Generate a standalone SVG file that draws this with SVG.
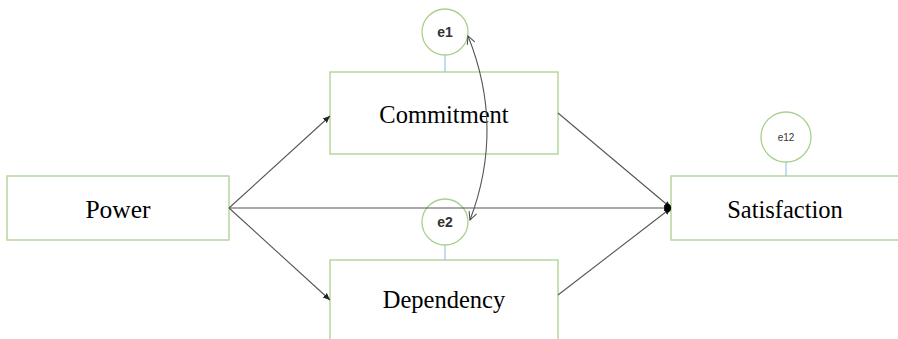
<svg xmlns="http://www.w3.org/2000/svg" width="898" height="339" viewBox="0 0 898 339">
<style>
.box{fill:#fff;stroke:#a9d18e;stroke-width:1.3}
.circ{fill:#fff;stroke:#a9d18e;stroke-width:1.3}
.lbl{font-family:"Liberation Serif","Times New Roman",serif;font-size:24.5px;fill:#000;text-anchor:middle}
.el{font-family:"Liberation Sans",sans-serif;font-size:14px;fill:#333;text-anchor:middle;font-weight:bold}
.tie{stroke:#9dc3e6;stroke-width:1.2}
.c{stroke:#555;stroke-width:1.1;fill:none}
</style>
<defs>
<marker id="ah" markerWidth="8" markerHeight="8" refX="7" refY="4" orient="auto" markerUnits="userSpaceOnUse">
<path d="M0,1 L7,4 L0,7 Z" fill="#222"/>
</marker>
<marker id="oh" markerWidth="10" markerHeight="10" refX="9" refY="5" orient="auto" markerUnits="userSpaceOnUse">
<path d="M1,1 L9,5 L1,9" fill="none" stroke="#444" stroke-width="1"/>
</marker>
<marker id="oh2" markerWidth="10" markerHeight="10" refX="1" refY="5" orient="auto" markerUnits="userSpaceOnUse">
<path d="M9,1 L1,5 L9,9" fill="none" stroke="#444" stroke-width="1"/>
</marker>
</defs>
<g id="power"><rect class="box" x="7" y="176" width="222" height="64"/><text class="lbl" x="118" y="218" style="font-size:25.5px">Power</text></g>
<g id="commitment"><rect class="box" x="330" y="72" width="228" height="82"/><text class="lbl" x="444" y="123">Commitment</text></g>
<g id="dependency"><rect class="box" x="330" y="260" width="228" height="80"/><text class="lbl" x="444" y="308">Dependency</text></g>
<g id="satisfaction"><rect class="box" x="671" y="176" width="230" height="64"/><text class="lbl" x="785" y="218">Satisfaction</text></g>
<g id="e1"><line class="tie" x1="445" y1="55" x2="445" y2="72"/><circle class="circ" cx="445" cy="32" r="23"/><text class="el" x="445" y="37">e1</text></g>
<g id="e2"><line class="tie" x1="445" y1="245" x2="445" y2="260"/><circle class="circ" cx="445" cy="222" r="23"/><text class="el" x="445" y="227">e2</text></g>
<g id="e12"><line class="tie" x1="786" y1="162" x2="786" y2="176"/><circle class="circ" cx="786" cy="137" r="25"/><text class="el" x="786" y="141" style="font-size:10px;font-weight:normal">e12</text></g>
<g id="connectors">
<line class="c" x1="229" y1="208" x2="330" y2="116" marker-end="url(#ah)"/>
<line class="c" x1="229" y1="208" x2="330" y2="300" marker-end="url(#ah)"/>
<line class="c" x1="229" y1="208" x2="671" y2="208" marker-end="url(#ah)"/>
<line class="c" x1="558" y1="113" x2="671" y2="208" marker-end="url(#ah)"/>
<line class="c" x1="558" y1="295" x2="671" y2="208" marker-end="url(#ah)"/>
<ellipse cx="668" cy="208" rx="3" ry="4" fill="#000"/>
<path class="c" d="M468,36 Q505,128 470,220" marker-start="url(#oh2)" marker-end="url(#oh)"/>
</g>
</svg>
